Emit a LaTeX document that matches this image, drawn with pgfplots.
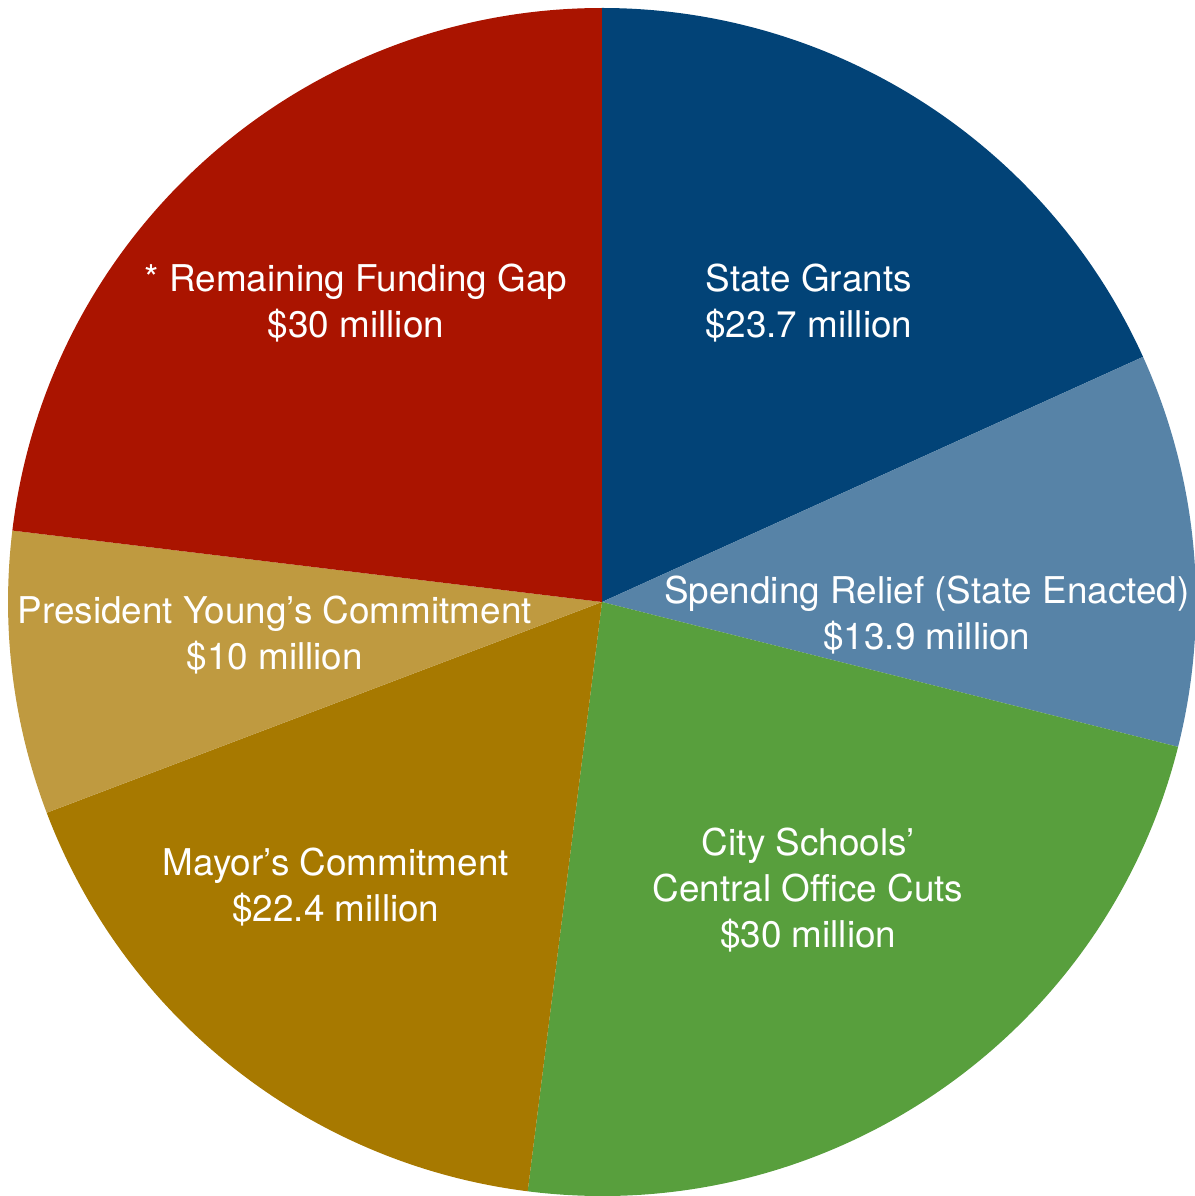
\documentclass[border=0pt]{standalone}
\usepackage{pgfplots}
\pgfplotsset{compat=1.18}
\usepackage{pgfplotstable}
\usepackage{fontspec}
\setmainfont{TeX Gyre Heros}

\definecolor{cSG}{HTML}{024377}
\definecolor{cSR}{HTML}{5783A7}
\definecolor{cCS}{HTML}{589F3D}
\definecolor{cMC}{HTML}{A77900}
\definecolor{cPY}{HTML}{BF9A40}
\definecolor{cRG}{HTML}{AA1400}

% slices, clockwise from 12 o'clock (million $)
\pgfplotstableread{
value col
23.7 cSG
13.9 cSR
30 cCS
22.4 cMC
10 cPY
30 cRG
}\piedata

\def\total{130}
\def\R{6cm}

\begin{document}
\begin{tikzpicture}
\begin{axis}[
  x=\R, y=\R,
  xmin=-1.0135, xmax=0.998,
  ymin=-1.0, ymax=1.0135,
  hide axis,
  scale only axis,
]
\def\a{90}
\pgfplotsforeachungrouped \i in {0,...,5}{
  \pgfplotstablegetelem{\i}{value}\of\piedata \let\v\pgfplotsretval
  \pgfplotstablegetelem{\i}{col}\of\piedata \let\c\pgfplotsretval
  \pgfmathsetmacro\b{\a-\v/\total*360}
  \edef\cmd{\noexpand\fill[\c] (axis cs:0,0) -- ++(\a:\R)
    arc[start angle=\a, end angle=\b, radius=\R] -- cycle;}
  \cmd
  \let\a\b
}
\tikzset{lbl/.style={text=white, align=center, font=\fontsize{10.6}{13.2}\selectfont}}
\node[lbl] at (axis cs:0.348,0.503) {State Grants\\\$23.7 million};
\node[lbl] at (axis cs:0.547,-0.022) {Spending Relief (State Enacted)\\\$13.9 million};
\node[lbl] at (axis cs:0.347,-0.485) {City Schools’\\Central Office Cuts\\\$30 million};
\node[lbl] at (axis cs:-0.448,-0.480) {Mayor’s Commitment\\\$22.4 million};
\node[lbl] at (axis cs:-0.551,-0.056) {President Young’s Commitment\\\$10 million};
\node[lbl] at (axis cs:-0.414,0.503) {* Remaining Funding Gap\\\$30 million};
\end{axis}
% arc control points overshoot, so pin the page to the axis box
\pgfresetboundingbox
\path (current axis.south west) rectangle (current axis.north east);
\end{tikzpicture}
\end{document}
